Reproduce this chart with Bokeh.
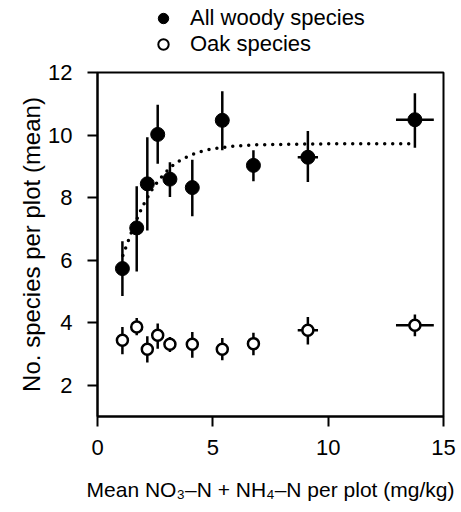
from bokeh.plotting import figure
from bokeh.layouts import column
from bokeh.models import Range1d, FixedTicker, Legend, LegendItem
from bokeh.embed import file_html
from bokeh.resources import INLINE

# N values (mg/kg) per plot group
x_n = [1.08, 1.70, 2.16, 2.61, 3.14, 4.11, 5.41, 6.76, 9.12, 13.76]
x_err = [0, 0, 0, 0, 0, 0, 0, 0, 0.44, 0.82]

woody = [5.73, 7.03, 8.44, 10.02, 8.59, 8.32, 10.47, 9.03, 9.29, 10.49]
woody_lo = [4.85, 5.64, 6.95, 9.08, 8.02, 7.40, 9.51, 8.52, 8.50, 9.59]
woody_hi = [6.60, 8.36, 9.93, 10.97, 9.13, 9.21, 11.40, 9.51, 10.13, 11.34]

oak = [3.44, 3.86, 3.15, 3.60, 3.31, 3.31, 3.15, 3.33, 3.76, 3.92]
oak_lo = [2.99, 3.60, 2.73, 3.17, 3.06, 2.88, 2.80, 2.96, 3.30, 3.57]
oak_hi = [3.86, 4.15, 3.57, 3.97, 3.54, 3.70, 3.51, 3.68, 4.18, 4.26]

# fitted curve
fit_x = [1.10, 1.25, 1.40, 1.55, 1.70, 1.85, 2.00, 2.20, 2.40, 2.60, 2.80, 3.00, 3.30,
         3.60, 4.00, 4.40, 4.80, 5.20, 5.60, 6.00, 7.00, 8.00, 9.00, 10.0, 11.0, 12.0, 13.5]
fit_y = [6.15, 6.45, 6.75, 7.05, 7.30, 7.55, 7.78, 8.05, 8.30, 8.50, 8.68, 8.84, 9.05,
         9.20, 9.35, 9.46, 9.53, 9.58, 9.62, 9.65, 9.69, 9.70, 9.71, 9.72, 9.72, 9.72, 9.72]

series_names = ["All woody species", "Oak species"]
x_ticks = [0, 5, 10, 15]
y_ticks = [2, 4, 6, 8, 10, 12]

FONT = "Liberation Sans"

# ---- legend strip on top (its frame aligns with the main plot frame) ----
lg = figure(width=461, height=58, x_range=Range1d(0, 1), y_range=Range1d(0, 1),
            output_backend="svg", toolbar_location=None, min_border=0)
lg.axis.visible = False
lg.grid.visible = False
lg.outline_line_color = None
lg.background_fill_color = "white"
lg.border_fill_color = "white"
# key renderers: one point each, kept outside the strip's visible range
lw = lg.scatter([-5], [-5], marker="circle", fill_color="black", line_color="black")
lo = lg.scatter([-5], [-5], marker="circle", fill_color="white", line_color="black",
                line_width=2)
legend = Legend(items=[LegendItem(label=series_names[0], renderers=[lw]),
                       LegendItem(label=series_names[1], renderers=[lo])],
                location=(53, 1))
legend.padding = 0
legend.margin = 0
legend.spacing = 0
legend.glyph_width = 26
legend.glyph_height = 26
legend.label_height = 26
legend.label_standoff = 14
legend.label_text_font = FONT
legend.label_text_font_size = "22px"
legend.label_text_color = "black"
legend.border_line_color = None
legend.background_fill_alpha = 0
lg.add_layout(legend, "center")

# ---- main plot ----
p = figure(width=461, height=454, x_range=Range1d(0, 15), y_range=Range1d(1, 12),
           output_backend="svg", toolbar_location=None,
           min_border_left=97, min_border_right=18, min_border_top=14, min_border_bottom=96)
p.grid.visible = False
p.background_fill_color = "white"
p.border_fill_color = "white"
p.outline_line_color = "black"
p.outline_line_width = 2

for ax in (p.xaxis[0], p.yaxis[0]):
    ax.axis_line_width = 2
    ax.major_tick_line_width = 2
    ax.major_tick_in = 0
    ax.major_tick_out = 10
    ax.minor_tick_line_color = None
    ax.major_label_text_font = FONT
    ax.major_label_text_font_size = "22px"
    ax.major_label_text_color = "black"
    ax.axis_label_text_font = FONT
    ax.axis_label_text_font_style = "normal"
    ax.axis_label_text_color = "black"

p.xaxis.ticker = FixedTicker(ticks=x_ticks)
p.yaxis.ticker = FixedTicker(ticks=y_ticks)
p.xaxis.major_label_standoff = 13
p.yaxis.major_label_standoff = 15
p.xaxis.axis_label = "Mean NO\u2083\u2013N + NH\u2084\u2013N per plot (mg/kg)"
p.xaxis.axis_label_text_font_size = "21px"
p.xaxis.axis_label_standoff = 20
p.yaxis.axis_label = "No. species per plot (mean)"
p.yaxis.axis_label_text_font_size = "24px"
p.yaxis.axis_label_standoff = 0

# fitted curve
p.line(fit_x, fit_y, line_color="black", line_width=3.5, line_dash="0 8", line_cap="round")

# error bars
xl = [a - e for a, e in zip(x_n, x_err)]
xr = [a + e for a, e in zip(x_n, x_err)]
p.segment(x0=x_n, y0=woody_lo, x1=x_n, y1=woody_hi, line_color="black", line_width=2.5)
p.segment(x0=xl, y0=woody, x1=xr, y1=woody, line_color="black", line_width=2.5)
p.segment(x0=x_n, y0=oak_lo, x1=x_n, y1=oak_hi, line_color="black", line_width=2.5)
p.segment(x0=xl, y0=oak, x1=xr, y1=oak, line_color="black", line_width=2.5)

p.scatter(x_n, woody, marker="circle", size=14, fill_color="black", line_color="black")
p.scatter(x_n, oak, marker="circle", size=11, fill_color="white", line_color="black",
          line_width=2.5)

layout = column(lg, p, spacing=0)
open("out.html", "w").write(file_html(layout, INLINE))
